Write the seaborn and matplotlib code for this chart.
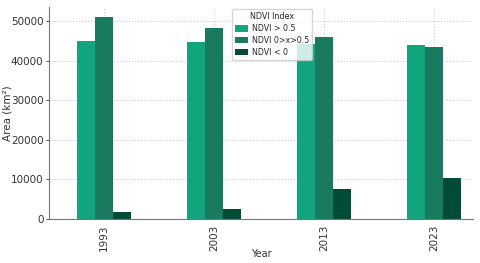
import matplotlib
matplotlib.use('Agg')
from matplotlib import pyplot as plt
import pandas as pd
import seaborn as sns

years = ['1993', '2003', '2013', '2023']
categories = ['NDVI > 0.5', 'NDVI 0>x>0.5', 'NDVI < 0']
ndvi_high = [45000, 44800, 44100, 43950]
ndvi_mid = [51000, 48300, 45900, 43400]
ndvi_neg = [1700, 2600, 7500, 10270]
colors = ['#12a37f', '#1a7a5f', '#024b36']

df = pd.DataFrame({
    'Year': years * 3,
    'Index': [categories[0]] * 4 + [categories[1]] * 4 + [categories[2]] * 4,
    'Area': ndvi_high + ndvi_mid + ndvi_neg,
})

sns.set_style("whitegrid", {'grid.linestyle': ':', 'grid.color': '#cccccc',
                            'axes.edgecolor': '#777777'})
plt.rcParams['font.family'] = ['DejaVu Sans']

fig = plt.figure(figsize=(4.8, 2.63), dpi=100)
ax = fig.add_axes([49 / 480, 1 - 219 / 263, (473 - 49) / 480, (219 - 7) / 263])
sns.barplot(data=df, x='Year', y='Area', hue='Index', hue_order=categories,
            palette=colors, width=0.49, saturation=1, linewidth=0, ax=ax)
ax.set_xlim(-0.5, 3.355)
ax.set_ylim(0, 53550)
ax.set_yticks([0, 10000, 20000, 30000, 40000, 50000])
ax.tick_params(axis='x', labelrotation=90, labelsize=7.5, pad=0.5, colors='#333333')
ax.tick_params(axis='y', labelsize=7.5, pad=2, colors='#333333', left=True,
               length=2, width=0.6)
ax.set_ylabel('Area (km²)', fontsize=7.5, color='#333333')
ax.yaxis.set_label_coords(-0.087, 0.5)
ax.set_xlabel('Year', fontsize=7, color='#333333')
ax.xaxis.set_label_coords(0.5, -0.142)
for side in ['top', 'right']:
    ax.spines[side].set_visible(False)
ax.grid(True, axis='both', linestyle=':', color='#cccccc', linewidth=0.8)
ax.set_axisbelow(True)
leg = ax.legend(title='NDVI Index', fontsize=5.7, title_fontsize=5.8,
                loc='upper left', bbox_to_anchor=(183 / 424, 0.99),
                frameon=True, framealpha=0.8, handlelength=1.6, handleheight=0.9,
                borderpad=0.4, labelspacing=0.35, handletextpad=0.5,
                borderaxespad=0)
plt.savefig('out.png', dpi=100)
